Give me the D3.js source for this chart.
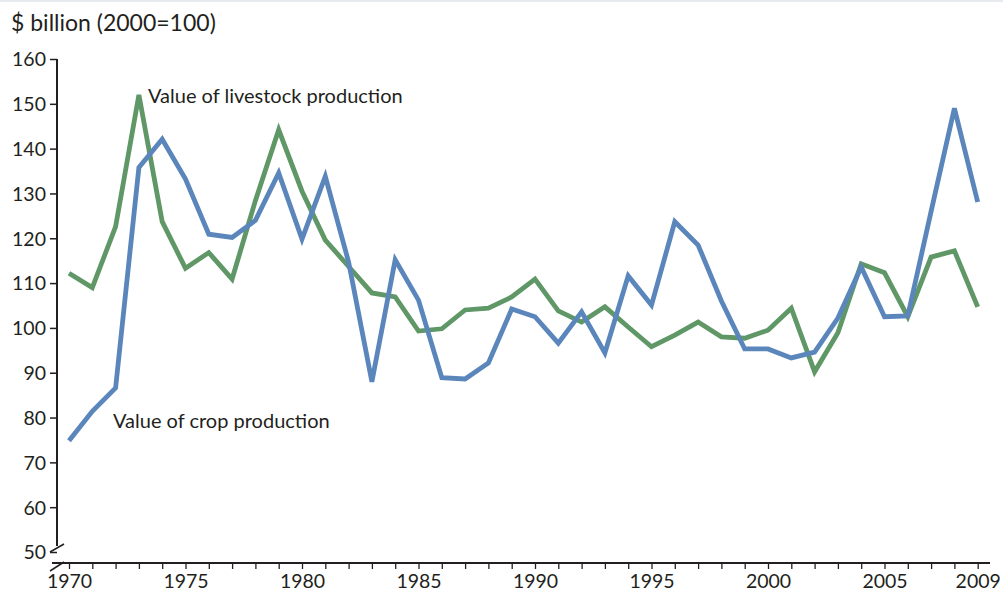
<!DOCTYPE html>
<html><head><meta charset="utf-8">
<script src="https://cdn.jsdelivr.net/npm/d3@7"></script>
<style>body{margin:0;background:#fff}svg{display:block}text{font-family:Lato,"Open Sans",sans-serif;fill:#231f20}</style>
</head><body><svg id="c" width="1003" height="597"></svg>
<script>
const years = d3.range(1970, 2010);
const crop = [74.8,81.4,86.6,135.8,142.1,133.2,120.9,120.2,124,134.6,119.8,133.8,114.7,88,115.2,106.2,88.9,88.6,92.2,104.2,102.5,96.6,103.6,94.4,111.6,105.1,123.7,118.5,106,95.3,95.3,93.3,94.6,102.2,113.6,102.5,102.7,126,149,128.1];
const livestock = [112.2,109,122.6,152,123.7,113.3,116.8,110.9,128.4,144.2,130.5,119.6,113.7,107.8,106.9,99.3,99.8,104,104.4,106.9,110.9,103.8,101.3,104.7,100.2,95.8,98.4,101.3,98,97.7,99.5,104.4,90.2,98.9,114.3,112.3,102.5,115.8,117.2,104.7];
const yTicks = [50,60,70,80,90,100,110,120,130,140,150,160];
const xTickLabels = [1970,1975,1980,1985,1990,1995,2000,2005,2009];
const title = "$ billion (2000=100)";
const cropLabel = "Value of crop production";
const livestockLabel = "Value of livestock production";

const svg = d3.select("#c");
svg.append("rect").attr("x",0).attr("y",0).attr("width",1003).attr("height",2).attr("fill","#e6eaee");
const x = d3.scaleLinear().domain([1970,2009]).range([69,977.7]);
const y = d3.scaleLinear().domain([50,160]).range([552,59]);

svg.append("text").attr("x",11).attr("y",31).attr("font-size",23).text(title);

// y axis
const ya = svg.append("g").attr("transform","translate(57,0)")
  .call(d3.axisLeft(y).tickValues(yTicks).tickSize(7).tickPadding(4).tickFormat(d3.format("d")));
ya.select(".domain").remove();
ya.selectAll("line").attr("stroke","#231f20").attr("stroke-width",1.5);
ya.selectAll("text").attr("font-size",19.5).attr("dy","0.35em");
svg.append("line").attr("x1",57).attr("x2",57).attr("y1",y(160)).attr("y2",546).attr("stroke","#231f20").attr("stroke-width",2);
// x axis
const xa = svg.append("g").attr("transform","translate(0,563)")
  .call(d3.axisBottom(x).tickValues(years).tickSize(6).tickPadding(5).tickFormat(d => xTickLabels.includes(d) ? d : ""));
xa.select(".domain").remove();
xa.selectAll("line").attr("stroke","#231f20").attr("stroke-width",1.3);
xa.selectAll("text").attr("font-size",19.5).attr("dy","0.71em");
svg.append("line").attr("x1",52).attr("x2",990).attr("y1",563).attr("y2",563).attr("stroke","#231f20").attr("stroke-width",2);
// break marks
svg.append("line").attr("x1",50).attr("y1",552).attr("x2",64).attr("y2",544).attr("stroke","#231f20").attr("stroke-width",1.5);
svg.append("line").attr("x1",50).attr("y1",571).attr("x2",64).attr("y2",562).attr("stroke","#231f20").attr("stroke-width",1.5);

const line = d3.line().x((d,i)=>x(years[i])).y(d=>y(d));
svg.append("path").datum(livestock).attr("d",line).attr("fill","none").attr("stroke","#5f9767").attr("stroke-width",4.8).attr("stroke-linejoin","miter");
svg.append("path").datum(crop).attr("d",line).attr("fill","none").attr("stroke","#5b86bb").attr("stroke-width",4.8).attr("stroke-linejoin","miter");

svg.append("text").attr("x",148).attr("y",103).attr("font-size",20).text(livestockLabel);
svg.append("text").attr("x",113).attr("y",428).attr("font-size",20).text(cropLabel);
</script></body></html>
